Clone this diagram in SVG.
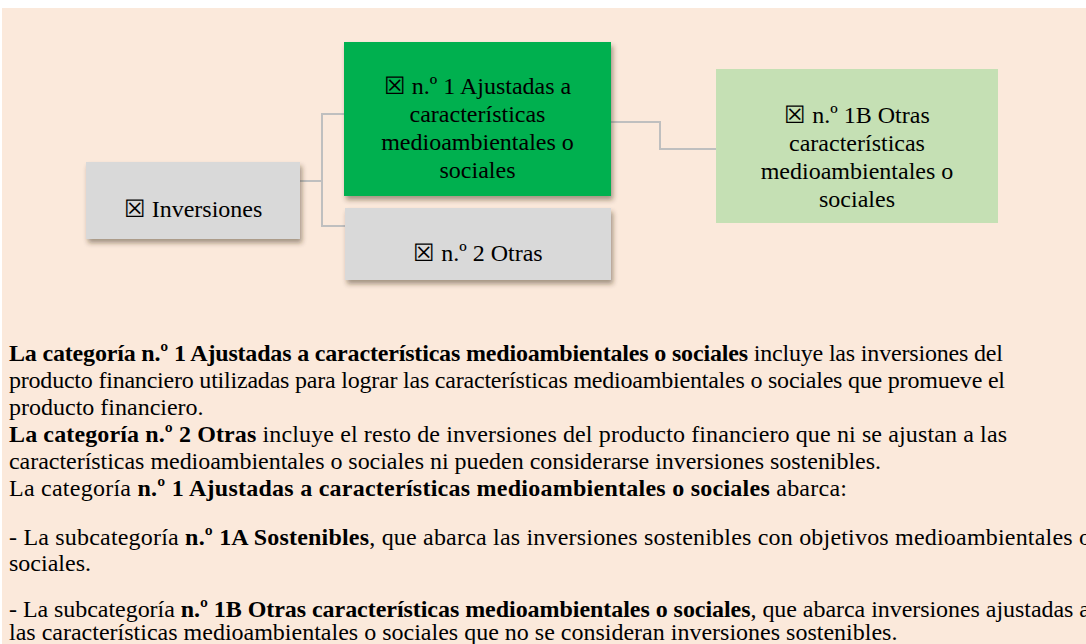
<svg xmlns="http://www.w3.org/2000/svg" width="1086" height="644" viewBox="0 0 1086 644">
<defs>
<filter id="sh" x="-10%" y="-10%" width="125%" height="135%">
<feDropShadow dx="2" dy="4" stdDeviation="2.5" flood-color="#3a2a1a" flood-opacity="0.45"/>
</filter>
<style>
.t{font-family:"Liberation Serif","Times New Roman",serif;font-size:24px;fill:#000}
.c{text-anchor:middle}
.b{font-weight:bold}
.con{fill:none;stroke:#BFBFBF;stroke-width:2}
</style>
</defs>
<rect x="0" y="0" width="1086" height="644" fill="#ffffff"/>
<rect x="2" y="8" width="1084" height="636" fill="#FBE9DB"/>
<g id="connectors">
<path class="con" d="M296,181 H322 V114 H344"/>
<path class="con" d="M322,181 V226 H345"/>
<path class="con" d="M605,122 H660 V149 H716"/>
</g>
<g id="n-inversiones">
<rect x="86" y="162" width="214" height="77" fill="#D9D9D9" filter="url(#sh)"/>
<text class="t c" x="193" y="217">☒ Inversiones</text>
</g>
<g id="n-1">
<rect x="344" y="42" width="267" height="154" fill="#00B050" filter="url(#sh)"/>
<text class="t c" x="477.5" y="94">☒ n.º 1 Ajustadas a</text>
<text class="t c" x="477.5" y="122">características</text>
<text class="t c" x="477.5" y="150">medioambientales o</text>
<text class="t c" x="477.5" y="178">sociales</text>
</g>
<g id="n-2">
<rect x="345" y="208" width="266" height="72" fill="#D9D9D9" filter="url(#sh)"/>
<text class="t c" x="478" y="261">☒ n.º 2 Otras</text>
</g>
<g id="n-1b">
<rect x="716" y="69" width="282" height="154" fill="#C5E0B4"/>
<text class="t c" x="857" y="123">☒ n.º 1B Otras</text>
<text class="t c" x="857" y="151">características</text>
<text class="t c" x="857" y="179">medioambientales o</text>
<text class="t c" x="857" y="207">sociales</text>
</g>
<g id="body">
<text class="t" x="9" y="361" textLength="994" lengthAdjust="spacing"><tspan class="b">La categoría n.º 1 Ajustadas a características medioambientales o sociales</tspan> incluye las inversiones del</text>
<text class="t" x="9" y="388" textLength="996" lengthAdjust="spacing">producto financiero utilizadas para lograr las características medioambientales o sociales que promueve el</text>
<text class="t" x="9" y="415">producto financiero.</text>
<text class="t" x="9" y="442" textLength="998" lengthAdjust="spacing"><tspan class="b">La categoría n.º 2 Otras</tspan> incluye el resto de inversiones del producto financiero que ni se ajustan a las</text>
<text class="t" x="9" y="469" textLength="872" lengthAdjust="spacing">características medioambientales o sociales ni pueden considerarse inversiones sostenibles.</text>
<text class="t" x="9" y="496" textLength="838" lengthAdjust="spacing">La categoría <tspan class="b">n.º 1 Ajustadas a características medioambientales o sociales</tspan> abarca:</text>
<text class="t" x="9" y="545" textLength="1082" lengthAdjust="spacing">- La subcategoría <tspan class="b">n.º 1A Sostenibles</tspan>, que abarca las inversiones sostenibles con objetivos medioambientales o</text>
<text class="t" x="9" y="571">sociales.</text>
<text class="t" x="9" y="617" textLength="1081" lengthAdjust="spacing">- La subcategoría <tspan class="b">n.º 1B Otras características medioambientales o sociales</tspan>, que abarca inversiones ajustadas a</text>
<text class="t" x="9" y="640">las características medioambientales o sociales que no se consideran inversiones sostenibles.</text>
</g>
</svg>
